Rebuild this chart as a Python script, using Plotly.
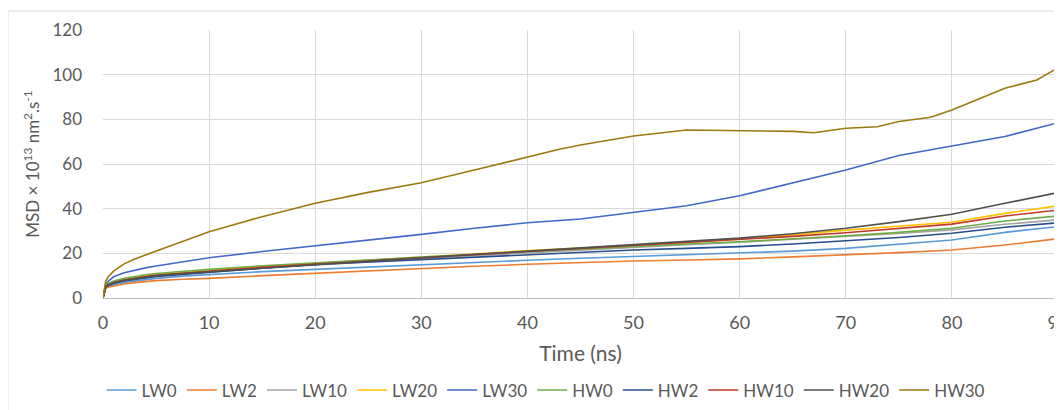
import plotly.graph_objects as go

# Shared time grid (ns)
time_ns = [0, 0.25, 0.5, 1, 2, 3, 4, 5, 7.5, 10, 15, 20, 25, 30, 35, 40, 45,
           50, 55, 60, 65, 70, 75, 80, 85, 90]

LW0 = [0, 4.5, 5.2, 6.0, 7.0, 7.7, 8.3, 8.8, 9.8, 10.5, 11.8, 12.8, 13.9, 15.0,
       16.0, 16.9, 17.8, 18.6, 19.2, 19.9, 21.0, 22.2, 24.0, 26.0, 29.4, 32.0]
LW2 = [0, 4.2, 4.8, 5.4, 6.3, 6.9, 7.4, 7.8, 8.4, 8.8, 10.0, 11.1, 12.2, 13.2,
       14.2, 15.1, 15.9, 16.6, 17.0, 17.5, 18.4, 19.3, 20.3, 21.5, 23.7, 26.6]
LW10 = [0, 5.0, 5.8, 6.7, 7.8, 8.6, 9.2, 9.7, 10.7, 11.5, 13.3, 14.8, 16.3, 17.6,
        18.9, 20.2, 21.5, 22.8, 23.9, 25.0, 26.2, 27.5, 28.9, 30.5, 33.0, 35.0]
LW20 = [0, 5.3, 6.1, 7.1, 8.3, 9.2, 9.9, 10.5, 11.5, 12.3, 14.0, 15.5, 17.0, 18.5,
        19.9, 21.2, 22.4, 23.6, 24.9, 26.4, 28.2, 30.4, 32.0, 33.9, 37.9, 41.3]
LW30 = [0, 6.0, 7.5, 9.5, 11.3, 12.5, 13.5, 14.3, 16.3, 18.0, 20.8, 23.3, 26.0, 28.5,
        31.2, 33.7, 35.4, 38.2, 41.3, 45.8, 51.6, 57.3, 63.8, 68.2, 72.3, 78.5]
HW0 = [0, 5.6, 6.5, 7.6, 8.8, 9.7, 10.4, 11.0, 12.0, 12.8, 14.4, 15.8, 17.1, 18.3,
       19.6, 20.8, 22.0, 23.2, 24.2, 25.2, 26.4, 27.8, 29.4, 31.2, 34.5, 36.7]
HW2 = [0, 4.8, 5.6, 6.5, 7.6, 8.4, 9.0, 9.6, 10.6, 11.3, 13.3, 15.0, 16.1, 17.2,
       18.3, 19.3, 20.4, 21.5, 22.2, 23.0, 24.2, 25.5, 27.1, 29.0, 31.7, 33.7]
HW10 = [0, 5.1, 5.9, 6.9, 8.0, 8.9, 9.6, 10.2, 11.2, 12.0, 13.7, 15.2, 16.6, 18.0,
        19.4, 20.8, 22.1, 23.4, 24.8, 26.2, 27.6, 29.2, 31.0, 33.1, 36.7, 39.4]
HW20 = [0, 5.0, 5.8, 6.8, 7.9, 8.7, 9.4, 10.0, 11.0, 11.8, 13.5, 15.0, 16.5, 18.0,
        19.5, 20.9, 22.3, 23.8, 25.3, 26.8, 28.8, 31.2, 34.2, 37.5, 42.4, 47.2]

# HW30 has more wiggles; its own finer time grid
time_hw30 = [0, 0.25, 0.5, 1, 2, 3, 4, 5, 7.5, 10, 15, 20, 25, 30, 35, 40, 43, 45,
             50, 55, 60, 65, 67, 70, 73, 75, 78, 80, 85, 88, 90]
HW30 = [0, 7.5, 9.5, 12.0, 15.3, 17.5, 19.3, 21.0, 25.5, 29.7, 36.4, 42.4, 47.3,
        51.6, 57.3, 63.3, 66.6, 68.5, 72.5, 75.2, 74.9, 74.6, 74.0, 76.0, 76.7,
        79.0, 80.9, 84.2, 93.9, 97.6, 103.1]

series_names = ["LW0", "LW2", "LW10", "LW20", "LW30", "HW0", "HW2", "HW10", "HW20", "HW30"]
series_values = [LW0, LW2, LW10, LW20, LW30, HW0, HW2, HW10, HW20, HW30]
series_times = [time_ns] * 9 + [time_hw30]
colors = ["#5B9BD5", "#ED7D31", "#A5A5A5", "#FFC000", "#4169C8",
          "#70AD47", "#264F8C", "#C0392B", "#505050", "#9C7A10"]

font_family = "Lato, 'Open Sans', Arial, sans-serif"
text_color = "#595959"

fig = go.Figure()
for name, t, v, c in zip(series_names, series_times, series_values, colors):
    fig.add_trace(go.Scatter(x=t, y=v, mode="lines", name=name,
                             line=dict(color=c, width=1.6)))

fig.update_layout(
    width=1054, height=402,
    margin=dict(l=95, r=4, t=22, b=112, autoexpand=False),
    paper_bgcolor="white", plot_bgcolor="white",
    font=dict(family=font_family, size=17, color=text_color),
    showlegend=True,
    legend=dict(orientation="h", x=0.464, xanchor="center", y=-0.345, yanchor="middle",
                font=dict(size=17, color=text_color), itemwidth=30,
                tracegroupgap=0, bgcolor="rgba(0,0,0,0)"),
    xaxis=dict(range=[0, 90], dtick=10, tick0=0, showgrid=True, gridcolor="#D9D9D9",
               gridwidth=1, zeroline=False, showline=True, linecolor="#BFBFBF",
               ticks="", ticklabelstandoff=8, automargin=False,
               ticklabeloverflow="allow",
               tickfont=dict(size=18, color=text_color),
               title=dict(text="Time (ns)", font=dict(size=21, color=text_color), standoff=14)),
    yaxis=dict(range=[0, 120], dtick=20, tick0=0, showgrid=True, gridcolor="#D9D9D9",
               gridwidth=1, zeroline=False, showline=False, ticks="",
               ticklabelstandoff=20, automargin=False,
               tickfont=dict(size=17, color=text_color),
               title=dict(text="MSD × 10<sup>13</sup> nm<sup>2</sup>.s<sup>-1</sup>",
                          font=dict(size=17, color=text_color), standoff=8)),
    shapes=[
        dict(type="line", xref="paper", yref="paper", x0=-0.0995, x1=1.1, y0=1.0709, y1=1.0709,
             line=dict(color="#D9D9D9", width=1)),
        dict(type="line", xref="paper", yref="paper", x0=-0.0995, x1=-0.0995, y0=1.0709, y1=-0.5,
             line=dict(color="#D9D9D9", width=1)),
    ],
)

fig.write_html("out.html")
